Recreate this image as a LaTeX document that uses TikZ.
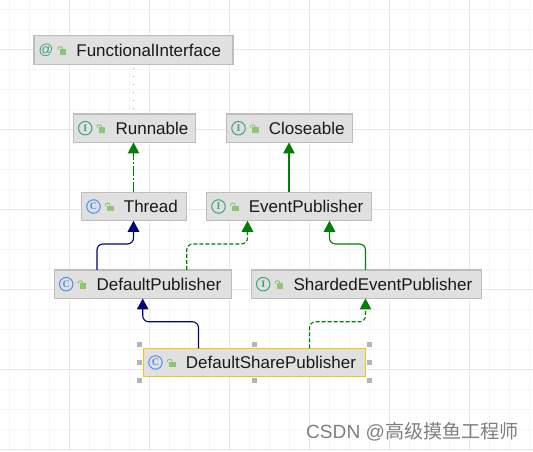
\documentclass[tikz,border=0pt]{standalone}
\usepackage{fontspec}
\setmainfont{Liberation Sans}
\newfontfamily\cjkfont{Noto Sans CJK SC}
\newfontfamily\iconfont{Liberation Serif}
\usetikzlibrary{arrows.meta,positioning}
\definecolor{gridminor}{HTML}{F5F5F5}
\definecolor{gridmajor}{HTML}{E8E8E8}
\definecolor{boxfill}{HTML}{E0E0E0}
\definecolor{boxline}{HTML}{BDBDBD}
\definecolor{selline}{HTML}{F6C416}
\definecolor{inhgreen}{HTML}{008000}
\definecolor{inhblue}{HTML}{000080}
\definecolor{icongreen}{HTML}{3BA672}
\definecolor{iconblue}{HTML}{4C8DF6}
\definecolor{lockgreen}{HTML}{8CC574}
\definecolor{dotolive}{HTML}{B0B040}
\definecolor{handlegray}{HTML}{B4B4B4}
\tikzset{
  umlbox/.style={draw=boxline,fill=boxfill,line width=1.1pt,minimum height=28.5pt,inner sep=0pt,outer sep=0pt},
  umltext/.style={anchor=west,inner sep=0pt,font=\fontsize{17}{20}\selectfont,text=black!90},
  badge/.style={circle,draw=#1,text=#1,line width=1pt,minimum size=13.5pt,inner sep=0pt,font=\iconfont\bfseries\fontsize{10}{10}\selectfont},
  extends/.style={line width=1.1pt,-{Triangle[length=11pt,width=11.5pt]},rounded corners=6pt},
  dashedline/.style={dash pattern=on 4pt off 2pt},
}
\newcommand{\umlicons}[3]{%
  \node[badge=#3] (#1icon) at ([xshift=12pt]#1.west) {#2};
  \fill[lockgreen] ([xshift=25.5pt,yshift=1pt]#1.west) rectangle ++(6.5,5.5);
  \draw[lockgreen,line width=1pt] ([xshift=24pt,yshift=0.5pt]#1.west) -- ++(0,-1.5) to[out=90,in=90] ++(4.4,0) -- ++(0,1);
}
\begin{document}
\begin{tikzpicture}[x=1pt,y=-1pt]
  \useasboundingbox (0,0) rectangle (533,451);
  \fill[white] (0,0) rectangle (533,451);
  % grid
  \foreach \gx in {9,29,...,529} \draw[gridminor] (\gx,0)--(\gx,451);
  \foreach \gy in {9,29,...,449} \draw[gridminor] (0,\gy)--(533,\gy);
  \foreach \gx in {69,149,...,529} \draw[gridmajor] (\gx,0)--(\gx,451);
  \foreach \gy in {49,129,...,449} \draw[gridmajor] (0,\gy)--(533,\gy);
  % classes
  \node[umlbox,minimum width=199pt] (fi) at (133.5,50) {};
  \node[umlbox,minimum width=122pt] (runnable) at (134.2,128.2) {};
  \node[umlbox,minimum width=126pt] (closeable) at (289.5,128.2) {};
  \node[umlbox,minimum width=105pt] (thread) at (134,206.5) {};
  \node[umlbox,minimum width=165pt] (epub) at (289,206.5) {};
  \node[umlbox,minimum width=177pt] (dpub) at (142.7,284.2) {};
  \node[umlbox,minimum width=230pt] (spub) at (366.2,284.2) {};
  \node[umlbox,draw=selline,minimum width=222pt] (dspub) at (254.5,362.5) {};
  \foreach \nm/\txt in {fi/FunctionalInterface,runnable/Runnable,closeable/Closeable,thread/Thread,epub/EventPublisher,dpub/DefaultPublisher,spub/ShardedEventPublisher,dspub/DefaultSharePublisher}
    \node[umltext] (\nm text) at ([xshift=42.2pt]\nm.west) {\txt};
  % icons
  \node[text=icongreen,inner sep=0pt,font=\fontsize{14.5}{15}\selectfont] (fiicon) at ([xshift=12pt,yshift=-0.5pt]fi.west) {@};
  \fill[lockgreen] ([xshift=25.5pt,yshift=1pt]fi.west) rectangle ++(6.5,5.5);
  \draw[lockgreen,line width=1pt] ([xshift=24pt,yshift=0.5pt]fi.west) -- ++(0,-1.5) to[out=90,in=90] ++(4.4,0) -- ++(0,1);
  \umlicons{runnable}{I}{icongreen}
  \umlicons{closeable}{I}{icongreen}
  \umlicons{epub}{I}{icongreen}
  \umlicons{spub}{I}{icongreen}
  \umlicons{thread}{C}{iconblue}
  \umlicons{dpub}{C}{iconblue}
  \umlicons{dspub}{C}{iconblue}
  % connectors
  \draw[dotolive,line width=1.6pt,dash pattern=on 1.5pt off 6.5pt,dash phase=4.7pt] (fi.south) -- (fi.south |- runnable.north);
  \draw[extends,inhgreen,dash pattern=on 10pt off 2pt on 2pt off 2pt] (fi.south |- thread.north) -- (fi.south |- runnable.south);
  \draw[extends,inhgreen] (epub.north) -- (epub.north |- closeable.south);
  \draw[extends,inhblue] ([xshift=-45.7pt]dpub.north) -- ++(0,-26) -| ([xshift=-0.5pt]thread.south);
  \draw[extends,inhgreen,dashedline] ([xshift=44pt]dpub.north) -- ++(0,-26) -| ([xshift=-41.5pt]epub.south);
  \draw[extends,inhgreen] ([xshift=-0.7pt]spub.north) -- ++(0,-26) -| ([xshift=40.5pt]epub.south);
  \draw[extends,inhblue] ([xshift=-56pt]dspub.north) -- ++(0,-26.5) -| (dpub.south);
  \draw[extends,inhgreen,dashedline] ([xshift=55pt]dspub.north) -- ++(0,-26.5) -| ([xshift=-0.7pt]spub.south);
  % selection handles
  \foreach \hx/\hy in {139.3/344,254.3/344,369.3/344,139.3/362,369.3/362,139.3/380,254.3/380,369.3/380}
    \fill[handlegray] (\hx-2.5,\hy-2.5) rectangle (\hx+2.5,\hy+2.5);
  % watermark
  \node[anchor=west,inner sep=0pt,text=black!50,font=\fontsize{19.1}{20}\selectfont] (wm) at (306,432) {CSDN @{\cjkfont 高级摸鱼工程师}};
\end{tikzpicture}
\end{document}
